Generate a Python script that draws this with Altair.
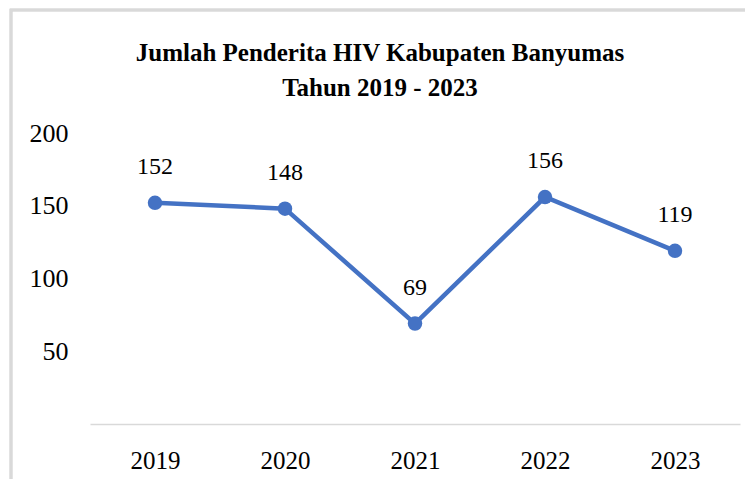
import altair as alt
import pandas as pd

years = ["2019", "2020", "2021", "2022", "2023"]
values = [152, 148, 69, 156, 119]
y_ticks = [50, 100, 150, 200]
title_lines = ["Jumlah Penderita HIV Kabupaten Banyumas", "Tahun 2019 - 2023"]

df = pd.DataFrame({"Tahun": years, "Jumlah": values})

FONT = "Liberation Serif"
BLUE = "#4472C4"

x_enc = alt.X("Tahun:O", sort=years,
              axis=alt.Axis(title=None, labelAngle=0, ticks=False, domain=True,
                            domainColor="#d9d9d9", domainWidth=1.5,
                            labelPadding=24, labelFontSize=25, labelFont=FONT,
                            labelColor="black"),
              scale=alt.Scale(type="point", padding=0.5))
y_enc = alt.Y("Jumlah:Q",
              scale=alt.Scale(domain=[0, 200], nice=False),
              axis=alt.Axis(title=None, values=y_ticks, grid=False, domain=False,
                            ticks=False, labelPadding=22, labelFontSize=26,
                            labelFont=FONT, labelColor="black"))

border = alt.Chart(df).mark_rect(fill=None, stroke="#d9d9d9", strokeWidth=2.5,
                                 clip=False).encode(
    x=alt.value(-79), x2=alt.value(690), y=alt.value(-123), y2=alt.value(370))

line = alt.Chart(df).mark_line(color=BLUE, strokeWidth=4.5).encode(x=x_enc, y=y_enc)
points = alt.Chart(df).mark_circle(color=BLUE, size=210, opacity=1).encode(x=x_enc, y=y_enc)
labels = alt.Chart(df).mark_text(dy=-36, fontSize=24, font=FONT, color="black",
                                 baseline="middle").encode(
    x=x_enc, y=y_enc, text="Jumlah:Q")

chart = alt.layer(border, line, points, labels).properties(
    width=650, height=291,
    title=alt.TitleParams(title_lines, font=FONT, fontSize=25, fontWeight="bold",
                          color="black", anchor="middle", dx=-35, offset=0, dy=92,
                          lineHeight=35),
    autosize=alt.AutoSizeParams(type="none"),
    padding={"left": 82, "top": 125, "right": 5, "bottom": 55},
).configure(background="white").configure_view(strokeWidth=0, stroke=None)

chart.save("out.html", embed_options={"renderer": "svg", "actions": False})
